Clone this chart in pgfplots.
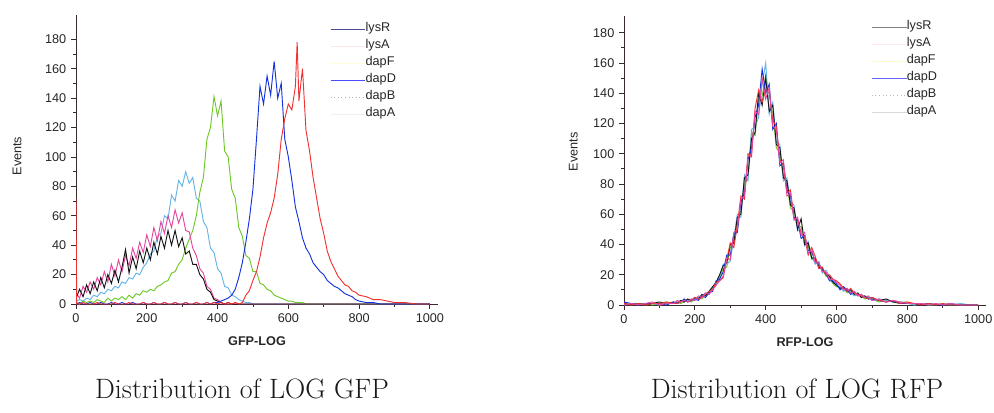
\documentclass[border=0pt]{standalone}
\usepackage{fontspec}
\setsansfont{Liberation Sans}
\usepackage{pgfplots}
\usepackage{pgfplotstable}
\pgfplotsset{compat=1.18}
\definecolor{cBlack}{RGB}{20,20,20}
\definecolor{cPink}{RGB}{230,70,160}
\definecolor{cGreen}{RGB}{110,200,40}
\definecolor{cBlue}{RGB}{20,50,220}
\definecolor{cCyan}{RGB}{100,180,230}
\definecolor{cRed}{RGB}{240,50,50}
\definecolor{axcol}{RGB}{60,40,40}

\pgfplotstableread{
x lysR lysA dapF dapD dapB dapA
0 4 8 1 0 2 72
2 5 7 1 0 2 0
10 10 4 0 1 3 0
20 5 12 2 0 2 1
30 13 8 1 0 4 0
40 7 15 2 1 3 0
50 15 10 1 0 6 0
60 9 18 3 0 5 1
70 18 13 2 1 8 0
80 11 22 1 0 7 0
90 20 15 4 0 10 0
100 14 27 2 1 9 0
110 23 19 4 0 12 1
120 15 30 3 0 11 0
130 25 22 5 1 15 0
140 37 33 3 0 14 0
150 21 26 6 0 18 1
160 32 38 4 1 17 0
170 24 31 7 0 21 0
180 36 42 6 0 20 0
190 28 35 9 1 25 1
200 38 47 8 0 28 0
210 30 39 10 0 34 0
220 42 52 9 1 36 1
230 34 43 12 0 46 0
240 46 56 13 0 48 0
250 38 48 15 1 60 1
260 50 60 16 0 58 0
270 40 52 21 0 74 0
280 50 64 22 1 70 1
290 39 55 27 0 84 0
300 45 62 30 0 80 0
310 34 50 38 1 90 1
320 36 49 44 0 82 0
330 27 38 50 0 86 0
340 27 33 60 1 72 1
350 20 24 76 0 70 0
360 17 21 86 0 56 0
370 10 12 112 1 52 1
380 8 10 120 0 38 0
390 3 4 141 1 35 1
400 2 3 128 1 24 0
410 1 1 138 2 21 1
420 0 0 104 3 12 0
430 1 0 100 4 11 1
440 0 0 78 6 6 0
450 0 1 72 10 5 1
460 0 0 52 18 3 0
470 0 0 46 28 2 1
480 0 0 33 42 1 6
490 0 0 31 58 1 9
500 0 0 22 78 0 16
510 0 0 22 112 0 22
520 0 0 14 148 0 32
530 0 0 13 136 0 45
540 0 0 10 155 0 55
550 0 0 9 142 0 62
560 0 0 6 165 0 72
570 0 0 5 140 0 88
580 0 0 4 150 0 112
590 0 0 3 112 0 126
600 0 0 2 100 0 136
610 0 0 2 84 0 132
620 0 0 1 66 0 148
625 0 0 1 61 0 178
630 0 0 1 56 0 138
640 0 0 1 45 0 160
650 0 0 0 38 0 118
660 0 0 0 34 0 104
670 0 0 0 28 0 86
680 0 0 0 25 0 72
690 0 0 0 22 0 58
700 0 0 0 20 0 48
710 0 0 0 16 0 36
720 0 0 0 14 0 29
730 0 0 0 12 0 24
740 0 0 0 11 0 19
750 0 0 0 9 0 16
760 0 0 0 7 0 13
770 0 0 0 6 0 12
780 0 0 0 5 0 9
790 0 0 0 3 0 8
800 0 0 0 2 0 6
820 0 0 0 1 0 5
840 0 0 0 1 0 3
860 0 0 0 0 0 3
880 0 0 0 0 0 2
900 0 0 0 0 0 1
930 0 0 0 0 0 1
960 0 0 0 0 0 0
1000 0 0 0 0 0 0
}\gfp

\pgfplotstableread{
x lysR lysA dapF dapD dapB dapA
0 1 0 1 2 0 1
20 0 1 0 1 1 0
40 1 0 1 0 1 1
60 0 1 1 1 0 0
80 1 2 0 1 1 1
100 2 0 1 1 0 1
120 1 1 2 0 1 2
140 2 1 1 2 1 1
150 1 3 2 1 2 1
160 3 2 1 2 3 2
170 2 3 2 4 2 3
180 4 2 3 2 3 2
190 3 4 2 3 4 3
200 5 3 4 4 3 5
210 4 6 5 3 5 4
220 7 5 4 6 6 5
230 6 8 7 5 8 7
240 9 7 9 8 7 9
250 12 10 11 9 12 10
260 15 13 14 16 13 15
270 20 16 18 17 19 16
280 26 19 24 22 27 18
290 28 31 25 33 27 30
300 40 30 38 33 29 41
310 41 48 39 47 44 38
320 58 50 55 48 60 53
330 60 70 62 68 58 72
340 84 72 80 74 86 70
350 86 98 84 96 82 100
360 110 100 114 104 116 98
370 114 128 112 124 118 130
380 140 126 136 132 124 142
390 132 150 138 156 146 134
400 150 136 152 140 160 142
410 128 144 130 146 126 140
420 132 118 128 116 134 122
430 106 116 104 120 108 118
440 104 94 100 92 106 96
450 84 96 86 94 82 92
460 82 72 80 76 84 74
470 66 74 64 72 68 76
480 64 56 62 58 66 57
490 50 58 52 56 49 57
500 57 46 52 44 50 47
510 40 48 42 46 39 45
520 41 34 39 36 42 33
530 31 37 30 35 32 38
540 31 28 30 29 27 32
550 25 28 26 27 29 24
560 24 22 25 23 21 25
570 20 22 19 21 23 20
580 19 17 18 16 19 20
590 15 17 14 16 15 17
600 13 15 12 14 13 16
610 11 13 12 10 12 14
620 12 10 11 12 9 11
630 9 11 8 10 11 9
640 10 8 9 7 8 11
650 7 9 8 9 6 8
660 8 6 7 6 7 7
670 5 7 6 7 5 6
680 6 5 4 5 6 5
690 4 6 5 4 5 4
700 5 3 4 4 3 5
720 3 4 2 3 4 3
740 4 2 3 2 3 2
760 2 3 2 3 2 3
780 1 2 2 1 2 1
800 1 1 2 1 1 2
820 1 1 0 1 0 1
840 0 1 1 0 1 0
860 1 0 0 1 0 1
880 0 1 0 0 1 0
900 0 0 1 0 0 1
920 0 1 0 1 0 0
950 0 0 0 0 1 0
980 0 0 0 0 0 0
1000 0 0 0 0 0 0
}\rfp

\pgfplotsset{
  histaxis/.style={
    scale only axis, width=271.5pt, height=216.75pt,
    axis lines=left, axis line style={-, draw=axcol, line width=0.7pt},
    x axis line style={-}, y axis line style={-},
    xmin=0, ymin=0,
    xtick={0,200,...,1000}, ytick={0,20,...,180},
    minor x tick num=1, minor y tick num=1,
    tick align=outside, major tick length=3.75pt, minor tick length=2.25pt,
    tick style={draw=axcol, line width=0.6pt},
    every tick label/.append style={font=\sffamily\fontsize{9.5}{11}\selectfont, text=black!85},
    /pgf/number format/assume math mode=true,
    /pgf/number format/1000 sep={},
    label style={font=\sffamily\fontsize{9.5}{11}\selectfont, text=black!85},
    legend style={draw=none, fill=none, anchor=north west, inner sep=0pt,
      font=\sffamily\fontsize{9.5}{11}\selectfont, text=black!85,
      nodes={inner sep=0pt, text height=8pt, text depth=4.75pt},
      /tikz/every even column/.append style={column sep=3pt}},
    legend cell align=left,
    legend image code/.code={\draw[##1] (0pt,0pt) -- (26pt,0pt);},
    every axis plot/.append style={line width=0.7pt},
  }
}

\begin{document}
\begin{tikzpicture}
\useasboundingbox (0,0) rectangle (745.5pt,309pt);
\begin{axis}[histaxis, at={(57pt,81pt)}, anchor=south west,
  xmax=1023, ymax=196.5,
  xlabel={\bfseries GFP-LOG}, ylabel={Events},
  xlabel style={at={(axis description cs:0.5,-0.128)}, anchor=center},
  ylabel style={at={(axis description cs:-0.163,0.512)}, anchor=center},
  legend style={at={(0.7017,0.9796)}}]
\addplot[cCyan, forget plot] table[x=x, y=dapB] {\gfp};
\addplot[cGreen, forget plot] table[x=x, y=dapF] {\gfp};
\addplot[cPink, forget plot] table[x=x, y=lysA] {\gfp};
\addplot[cBlack, forget plot] table[x=x, y=lysR] {\gfp};
\addplot[cBlue, forget plot] table[x=x, y=dapD] {\gfp};
\addplot[cRed, forget plot] table[x=x, y=dapA] {\gfp};
\addlegendimage{draw=black!60!blue!70, line width=0.5pt}
\addlegendentry{lysR}
\addlegendimage{draw=pink!40, line width=0.5pt}
\addlegendentry{lysA}
\addlegendimage{draw=yellow!15, line width=0.5pt}
\addlegendentry{dapF}
\addlegendimage{draw=blue!70, line width=0.5pt}
\addlegendentry{dapD}
\addlegendimage{draw=gray!60, dotted, line width=0.5pt}
\addlegendentry{dapB}
\addlegendimage{draw=gray!12, line width=0.5pt}
\addlegendentry{dapA}
\end{axis}

\begin{axis}[histaxis, at={(468pt,80.25pt)}, anchor=south west,
  xmax=1022, ymax=191,
  xlabel={\bfseries RFP-LOG}, ylabel={Events},
  xlabel style={at={(axis description cs:0.5,-0.128)}, anchor=center},
  ylabel style={at={(axis description cs:-0.14,0.53)}, anchor=center},
  legend style={at={(0.683,0.99)}}]
\addplot[cGreen, forget plot] table[x=x, y=dapF] {\rfp};
\addplot[cCyan, forget plot] table[x=x, y=dapB] {\rfp};
\addplot[cBlack, forget plot] table[x=x, y=lysR] {\rfp};
\addplot[cBlue, forget plot] table[x=x, y=dapD] {\rfp};
\addplot[cRed, forget plot] table[x=x, y=dapA] {\rfp};
\addplot[cPink, forget plot] table[x=x, y=lysA] {\rfp};
\addlegendimage{draw=black!50, line width=0.5pt}
\addlegendentry{lysR}
\addlegendimage{draw=pink!35, line width=0.5pt}
\addlegendentry{lysA}
\addlegendimage{draw=yellow!20, line width=0.5pt}
\addlegendentry{dapF}
\addlegendimage{draw=blue!60, line width=0.5pt}
\addlegendentry{dapD}
\addlegendimage{draw=gray!55, dotted, line width=0.5pt}
\addlegendentry{dapB}
\addlegendimage{draw=gray!30, line width=0.5pt}
\addlegendentry{dapA}
\end{axis}

\node[anchor=base, font=\fontsize{21}{24}\selectfont, text=black!90] at (181.5pt,10.5pt) {Distribution of LOG GFP};
\node[anchor=base, font=\fontsize{21}{24}\selectfont, text=black!90] at (597.75pt,10.5pt) {Distribution of LOG RFP};
\end{tikzpicture}
\end{document}
